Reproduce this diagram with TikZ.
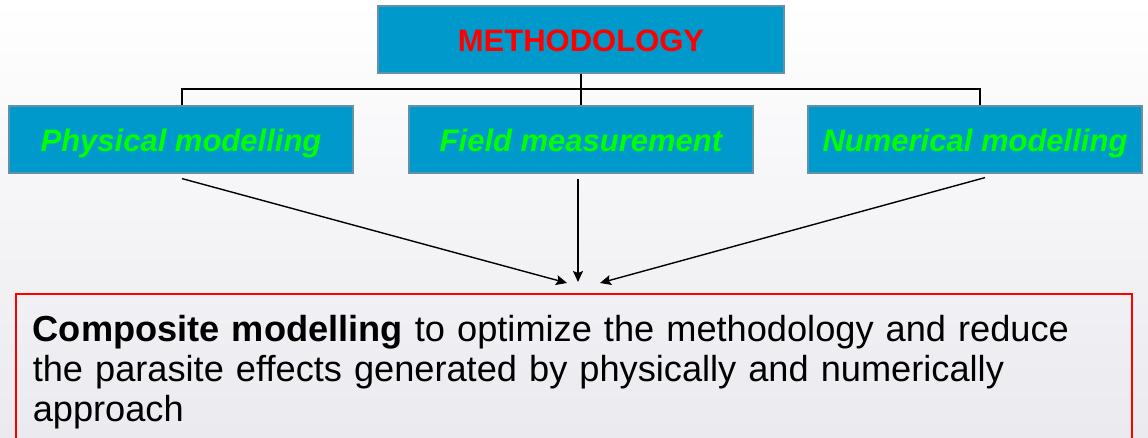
\documentclass[tikz,border=0pt]{standalone}
\usepackage{fontspec}
\setmainfont{Liberation Sans}
\usetikzlibrary{arrows.meta,calc}
\definecolor{boxblue}{RGB}{0,153,204}
\definecolor{boxedge}{RGB}{100,145,170}
\definecolor{txtgreen}{RGB}{0,255,0}
\definecolor{txtred}{RGB}{255,0,0}
\definecolor{bgbot}{RGB}{234,234,239}
\begin{document}
\begin{tikzpicture}[x=1pt,y=-1pt,
  bluebox/.style={draw=boxedge, line width=1.2pt, fill=boxblue, inner sep=0pt,
    minimum height=67pt, text height=31pt, text depth=6pt},
  head/.style={font=\fontsize{31}{36}\selectfont\bfseries, text=txtred},
  sub/.style={font=\fontsize{31}{36}\selectfont\bfseries\itshape, text=txtgreen},
  link/.style={line width=1.4pt, black},
  arr/.style={link, -{Stealth[length=11pt,width=10pt,inset=2pt]}},
  redbox/.style={draw=txtred, line width=1.6pt}]
\useasboundingbox (0,0) rectangle (1148,438);
\clip (0,0) rectangle (1148,438);
\shade[top color=white, bottom color=bgbot] (0,0) rectangle (1148,438);
\node[bluebox, head, minimum width=406pt] (meth) at (581,39.5) {METHODOLOGY};
\node[bluebox, sub, minimum width=344pt] (phys) at (181,139.5) {Physical modelling};
\node[bluebox, sub, minimum width=344pt] (field) at (581,139.5) {Field measurement};
\node[bluebox, sub, minimum width=334pt] (num) at (975,139.5) {Numerical modelling};
\coordinate (busL) at (182,89);
\coordinate (busR) at (980,89);
\draw[link] (meth.south) -- (field.north);
\draw[link] (phys.north -| busL) -- (busL) -- (busR) -- (num.north -| busR);
\coordinate (tipL) at (567,283);
\coordinate (tipM) at (578,282);
\coordinate (tipR) at (600,283);
\draw[arr] ($(phys.south -| busL)+(0,5)$) -- (tipL);
\draw[arr] ($(field.south)+(-3,5)$) -- (tipM);
\draw[arr] ($(num.south)+(10,4)$) -- (tipR);
\node[redbox, anchor=north west, inner xsep=17pt, inner ysep=0pt,
      text width=1082pt, align=left, text depth=110pt, font=\fontsize{36.2}{40}\selectfont]
  (comp) at (15,293) {\rule{0pt}{48pt}\textbf{Composite modelling} to optimize the methodology and reduce\\
  the parasite effects generated by physically and numerically\\
  approach};
\end{tikzpicture}
\end{document}
